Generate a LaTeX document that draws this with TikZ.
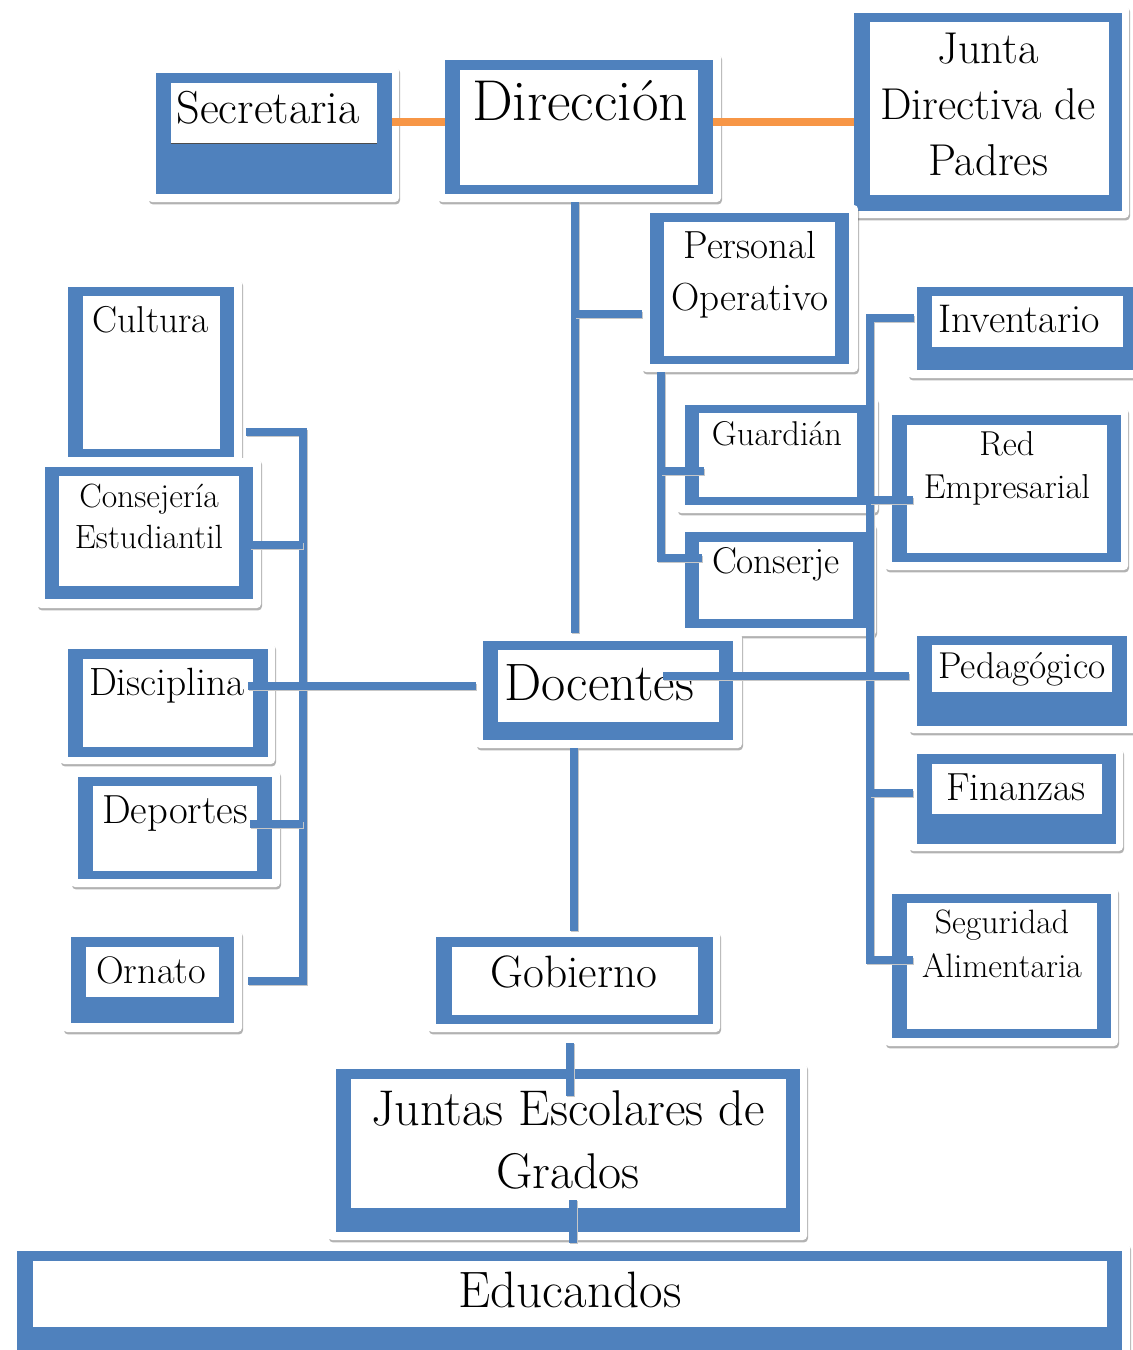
\documentclass[tikz,border=0pt]{standalone}
\usetikzlibrary{fit,shadows}
\definecolor{ublue}{HTML}{4F81BD}
\definecolor{uorange}{HTML}{F79646}
\tikzset{
  card/.style  = {fill=white, rounded corners=2pt, inner sep=0pt,
                  drop shadow={shadow xshift=0.5pt, shadow yshift=-1.2pt, opacity=0.3, fill=black}},
  frame/.style = {fill=ublue, inner sep=0pt},
  pane/.style  = {fill=white, inner sep=0pt},
  lbl/.style   = {inner sep=0pt, align=center, anchor=base},
  link/.style  = {draw=ublue, line width=3.6pt,
                  preaction={draw=black!22, line width=3.6pt, transform canvas={xshift=0.5pt, yshift=-0.7pt}}},
  tie/.style   = {draw=uorange, line width=4pt}
}
\newcommand{\fs}[2]{\fontsize{#1}{#2}\selectfont}

\begin{document}
\begin{tikzpicture}[x=0.5pt, y=-0.5pt]
\useasboundingbox (0,0) rectangle (1132,1350);

% Top row
\node[card, fit={(148,66) (399,202)}] (sec) {};
\node[frame, fit={(156,73) (392,194)}] (sec-b) {};
\node[pane, fit={(171,83) (377,143)}] (sec-i) {};
\draw[black!70, line width=0.5pt] (sec-i.south west) -- (sec-i.south east);
\node[lbl, font=\fs{23.1}{25}] (sec-t) at (268,123) {Secretaria};

\node[card, fit={(438,53) (721,202)}] (dir) {};
\node[frame, fit={(445,60) (713,194)}] (dir-b) {};
\node[pane, fit={(460,70) (698,185)}] (dir-i) {};
\node[lbl, font=\fs{28.8}{30}] (dir-t) at (580,120) {Dirección};

% base of a multi-line label = its last line
\node[card, fit={(846,5) (1129,218)}] (jdp) {};
\node[frame, fit={(854,13) (1122,211)}] (jdp-b) {};
\node[pane, fit={(870,22) (1109,195)}] (jdp-i) {};
\node[lbl, font=\fs{22.3}{28}] (jdp-t) at (988,175) {Junta\\Directiva de\\Padres};

% Personal operativo
\node[card, fit={(642,205) (858,372)}] (pop) {};
\node[frame, fit={(650,213) (849,364)}] (pop-b) {};
\node[pane, fit={(664,222) (835,356)}] (pop-i) {};
\node[lbl, font=\fs{19.6}{26}] (pop-t) at (750,310) {Personal\\Operativo};

\node[card, fit={(677,397) (878,513)}] (gua) {};
\node[frame, fit={(685,405) (867,505)}] (gua-b) {};
\node[pane, fit={(699,413) (857,497)}] (gua-i) {};
\node[lbl, font=\fs{17.2}{19}] (gua-t) at (777,445) {Guardián};

\node[card, fit={(677,523) (876,636)}] (conj) {};
\node[frame, fit={(685,532) (867,628)}] (conj-b) {};
\node[pane, fit={(699,542) (853,619)}] (conj-i) {};
\node[lbl, font=\fs{18.6}{20}] (conj-t) at (776,573) {Conserje};

% Left column
\node[card, fit={(61,279) (242,465)}] (cul) {};
\node[frame, fit={(68,287) (234,457)}] (cul-b) {};
\node[pane, fit={(83,296) (220,449)}] (cul-i) {};
\node[lbl, font=\fs{18.7}{20}] (cul-t) at (151,332) {Cultura};

\node[card, fit={(37,458) (261,608)}] (cons) {};
\node[frame, fit={(45,467) (253,599)}] (cons-b) {};
\node[pane, fit={(59,476) (239,586)}] (cons-i) {};
\node[lbl, font=\fs{16.8}{20.5}] (cons-t) at (149,548) {Consejería\\Estudiantil};

\node[card, fit={(60,643) (275,764)}] (dis) {};
\node[frame, fit={(68,649) (268,757)}] (dis-b) {};
\node[pane, fit={(83,659) (253,747)}] (dis-i) {};
\node[lbl, font=\fs{19.7}{21}] (dis-t) at (167,695) {Disciplina};

\node[card, fit={(71,770) (280,887)}] (dep) {};
\node[frame, fit={(78,777) (272,879)}] (dep-b) {};
\node[pane, fit={(93,786) (257,871)}] (dep-i) {};
\node[lbl, font=\fs{20.3}{22}] (dep-t) at (175,823) {Deportes};

\node[card, fit={(63,930) (242,1032)}] (orn) {};
\node[frame, fit={(71,937) (234,1023)}] (orn-b) {};
\node[pane, fit={(86,947) (219,997)}] (orn-i) {};
\node[lbl, font=\fs{19.2}{21}] (orn-t) at (151,983) {Ornato};

% Right column
\node[card, fit={(908,280) (1140,378)}] (inv) {};
\node[frame, fit={(917,287) (1140,370)}] (inv-b) {};
\node[pane, fit={(932,296) (1123,347)}] (inv-i) {};
\node[lbl, font=\fs{20}{22}] (inv-t) at (1019,332) {Inventario};

\node[card, fit={(885,407) (1128,570)}] (red) {};
\node[frame, fit={(892,415) (1121,562)}] (red-b) {};
\node[pane, fit={(907,425) (1107,553)}] (red-i) {};
\node[lbl, font=\fs{17.3}{21.5}] (red-t) at (1007,498) {Red\\Empresarial};

\node[card, fit={(909,629) (1140,733)}] (ped) {};
\node[frame, fit={(917,636) (1127,726)}] (ped-b) {};
\node[pane, fit={(932,645) (1112,692)}] (ped-i) {};
\node[lbl, font=\fs{18.7}{21}] (ped-t) at (1022,678) {Pedagógico};

\node[card, fit={(909,748) (1123,851)}] (fin) {};
\node[frame, fit={(917,754) (1116,844)}] (fin-b) {};
\node[pane, fit={(932,764) (1102,814)}] (fin-i) {};
\node[lbl, font=\fs{19.6}{21}] (fin-t) at (1016,800) {Finanzas};

\node[card, fit={(885,887) (1118,1046)}] (seg) {};
\node[frame, fit={(892,894) (1111,1038)}] (seg-b) {};
\node[pane, fit={(907,903) (1097,1029)}] (seg-i) {};
\node[lbl, font=\fs{16.9}{22}] (seg-t) at (1002,977) {Seguridad\\Alimentaria};

% Centre column
\node[card, fit={(476,633) (742,748)}] (doc) {};
\node[frame, fit={(483,641) (733,740)}] (doc-b) {};
\node[pane, fit={(498,650) (719,722)}] (doc-i) {};
\node[lbl, font=\fs{26.3}{28}] (doc-t) at (599,700) {Docentes};

\node[card, fit={(428,931) (720,1032)}] (gob) {};
\node[frame, fit={(436,937) (713,1024)}] (gob-b) {};
\node[pane, fit={(452,947) (698,1015)}] (gob-i) {};
\node[lbl, font=\fs{22.7}{24}] (gob-t) at (574,987) {Gobierno};

\node[card, fit={(328,1063) (807,1240)}] (jeg) {};
\node[frame, fit={(336,1069) (800,1232)}] (jeg-b) {};
\node[pane, fit={(351,1079) (786,1208)}] (jeg-i) {};
\node[lbl, font=\fs{25.1}{31.5}] (jeg-t) at (568,1188) {Juntas Escolares de\\Grados};

\node[card, fit={(10,1243) (1130,1356)}] (edu) {};
\node[frame, fit={(17,1251) (1122,1356)}] (edu-b) {};
\node[pane, fit={(33,1261) (1107,1327)}] (edu-i) {};
\node[lbl, font=\fs{25.6}{28}] (edu-t) at (570,1307) {Educandos};

% Connectors
\coordinate (row) at (0,122);
\coordinate (spine) at (575,0);
\coordinate (pob) at (575,314);
\coordinate (subx) at (661,0);
\coordinate (gua-in) at (704,471);
\coordinate (conj-in) at (702,558);
\coordinate (rbx) at (870,0);
\coordinate (inv-in) at (914,318);
\coordinate (red-in) at (913,500);
\coordinate (fin-in) at (913,793);
\coordinate (seg-in) at (913,960);
\coordinate (doc-in) at (663,676);
\coordinate (lbx) at (303,0);
\coordinate (cul-in) at (246,432);
\coordinate (cons-in) at (250,545);
\coordinate (dis-in) at (248,686);
\coordinate (dep-in) at (250,824);
\coordinate (orn-in) at (248,981);
\coordinate (gob-out) at (570,1043);
\coordinate (jeg-in) at (570,1096);
\coordinate (jeg-out) at (573,1200);

\draw[tie] (sec-b.east |- row) -- (dir-b.west |- row);
\draw[tie] (dir-b.east |- row) -- (jdp-b.west |- row);

\draw[link] (spine |- dir.south) -- (spine |- doc.north);
\draw[link] (pob) -- (pob -| pop.west);
\draw[link] (subx |- pop.south) |- (conj-in);
\draw[link] (subx |- gua-in) -- (gua-in);

\draw[link] (inv-in) -| (rbx |- seg-in) -- (seg-in);
\draw[link] (rbx |- red-in) -- (red-in);
\draw[link] (rbx |- fin-in) -- (fin-in);
\draw[link] (doc-in) -- (doc-in -| ped.west);

\draw[link] (cul-in) -| (lbx |- orn-in) -- (orn-in);
\draw[link] (cons-in) -- (cons-in -| lbx);
\draw[link] (dep-in) -- (dep-in -| lbx);
\draw[link] (dis-in) -- (dis-in -| doc.west);

\draw[link] (574,0 |- doc.south) -- (574,0 |- gob.north);
\draw[link] (gob-out) -- (jeg-in);
\draw[link] (jeg-out) -- (jeg-out |- edu.north);
\end{tikzpicture}
\end{document}
